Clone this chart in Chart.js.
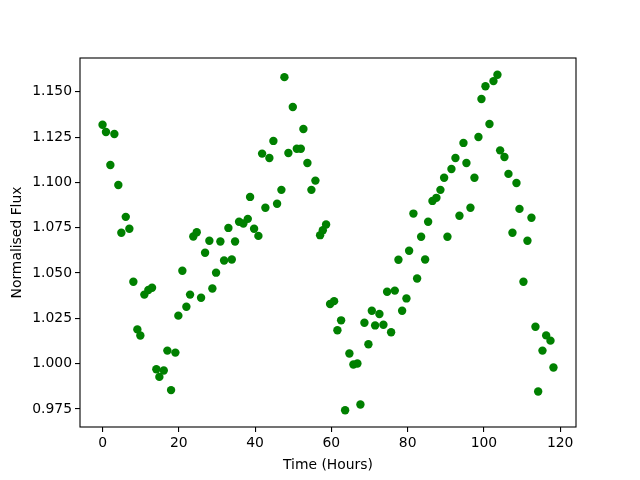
<!DOCTYPE html>
<html>
<head>
<meta charset="utf-8">
<script src="https://cdn.jsdelivr.net/npm/chart.js@4/dist/chart.umd.min.js"></script>
<style>
  html, body { margin: 0; padding: 0; background: #ffffff; }
  #wrap { width: 640px; height: 480px; }
</style>
</head>
<body>
<div id="wrap"><canvas id="fluxChart" width="640" height="480"></canvas></div>
<script>
// --- DATA ---
const timeHours = [
    0.0, 0.9, 2.05, 3.1, 4.14, 4.93, 6.09, 7.03, 8.08, 9.13,
    9.91, 10.96, 12.01, 12.98, 14.11, 14.9, 16.05, 17.0, 17.97, 19.1,
    19.88, 20.93, 21.98, 22.95, 23.8, 24.7, 25.84, 26.89, 28.01, 28.8,
    29.77, 30.9, 31.87, 33.0, 33.89, 34.75, 35.8, 36.93, 38.09, 38.69,
    39.74, 40.87, 41.84, 42.7, 43.75, 44.8, 45.77, 46.9, 47.69, 48.73,
    49.89, 50.94, 51.99, 52.67, 53.72, 54.77, 55.82, 57.05, 57.76, 58.62,
    59.67, 60.72, 61.59, 62.56, 63.61, 64.73, 65.78, 66.83, 67.62, 68.67,
    69.72, 70.61, 71.48, 72.6, 73.65, 74.62, 75.67, 76.64, 77.59, 78.56,
    79.69, 80.39, 81.52, 82.49, 83.54, 84.59, 85.38, 86.51, 87.55, 88.6,
    89.57, 90.44, 91.49, 92.54, 93.59, 94.64, 95.42, 96.47, 97.52, 98.57,
    99.36, 100.41, 101.46, 102.51, 103.55, 104.26, 105.39, 106.44, 107.49, 108.54,
    109.33, 110.37, 111.42, 112.47, 113.52, 114.23, 115.36, 116.33, 117.46, 118.24
];
const normFlux = [
    1.1318, 1.1278, 1.1096, 1.1267, 1.0986, 1.0722, 1.0810, 1.0744, 1.0452, 1.0189,
    1.0155, 1.0381, 1.0406, 1.0419, 0.9969, 0.9927, 0.9962, 1.0072, 0.9854, 1.0061,
    1.0265, 1.0513, 1.0314, 1.0381, 1.0702, 1.0725, 1.0364, 1.0612, 1.0678, 1.0415,
    1.0502, 1.0674, 1.0569, 1.0749, 1.0575, 1.0674, 1.0783, 1.0773, 1.0799, 1.0920,
    1.0744, 1.0705, 1.1159, 1.0860, 1.1135, 1.1229, 1.0882, 1.0959, 1.1581, 1.1162,
    1.1416, 1.1186, 1.1186, 1.1295, 1.1107, 1.0959, 1.1010, 1.0709, 1.0736, 1.0768,
    1.0329, 1.0345, 1.0184, 1.0239, 0.9743, 1.0056, 0.9995, 1.0001, 0.9775, 1.0226,
    1.0107, 1.0292, 1.0211, 1.0274, 1.0215, 1.0397, 1.0173, 1.0403, 1.0573, 1.0292,
    1.0360, 1.0623, 1.0828, 1.0470, 1.0700, 1.0575, 1.0783, 1.0898, 1.0915, 1.0959,
    1.1026, 1.0700, 1.1074, 1.1135, 1.0816, 1.1218, 1.1107, 1.0860, 1.1026, 1.1251,
    1.1460, 1.1531, 1.1322, 1.1559, 1.1594, 1.1177, 1.1140, 1.1047, 1.0722, 1.0997,
    1.0854, 1.0452, 1.0678, 1.0805, 1.0204, 0.9846, 1.0072, 1.0156, 1.0127, 0.9979
];
const xTickValues = [0, 20, 40, 60, 80, 100, 120];
const yTickValues = [0.975, 1.000, 1.025, 1.050, 1.075, 1.100, 1.125, 1.150];

// --- matplotlib-style autoscale: 5% margin each side ---
function paddedRange(arr) {
    const lo = Math.min(...arr), hi = Math.max(...arr);
    const pad = (hi - lo) * 0.05;
    return [lo - pad, hi + pad];
}
const [xMin, xMax] = paddedRange(timeHours);
const [yMin, yMax] = paddedRange(normFlux);

const FONT = { family: 'DejaVu Sans', size: 13.9 };

// draws the full black box round the plot area
const frameBox = {
    id: 'frameBox',
    afterDraw(chart) {
        const { ctx, chartArea: a } = chart;
        ctx.save();
        ctx.strokeStyle = '#000000';
        ctx.lineWidth = 1.1;
        ctx.strokeRect(a.left, a.top, a.right - a.left, a.bottom - a.top);
        ctx.restore();
    }
};

const ctx = document.getElementById('fluxChart').getContext('2d');
new Chart(ctx, {
    type: 'scatter',
    data: {
        datasets: [{
            data: timeHours.map((t, i) => ({ x: t, y: normFlux[i] })),
            backgroundColor: '#008000',
            borderColor: '#008000',
            borderWidth: 0,
            pointRadius: 4.2,
            pointHoverRadius: 4.2
        }]
    },
    options: {
        responsive: false,
        animation: false,
        layout: { padding: { left: 0, right: 64, top: 58, bottom: 0 } },
        plugins: { legend: { display: false }, tooltip: { enabled: false } },
        scales: {
            x: {
                type: 'linear',
                min: xMin,
                max: xMax,
                afterBuildTicks: axis => { axis.ticks = xTickValues.map(v => ({ value: v })); },
                afterFit: axis => { axis.height = 53; },
                grid: { display: true, drawOnChartArea: false, drawTicks: true, tickLength: 5, color: '#000000', lineWidth: 1.1 },
                border: { display: false },
                ticks: { color: '#000000', font: FONT, padding: 3, maxRotation: 0, callback: v => String(v) },
                title: { display: true, text: 'Time (Hours)', color: '#000000', font: FONT, padding: { top: 4, bottom: 6 } }
            },
            y: {
                type: 'linear',
                min: yMin,
                max: yMax,
                afterBuildTicks: axis => { axis.ticks = yTickValues.map(v => ({ value: v })); },
                afterFit: axis => { axis.width = 80; },
                grid: { display: true, drawOnChartArea: false, drawTicks: true, tickLength: 5, color: '#000000', lineWidth: 1.1 },
                border: { display: false },
                ticks: { color: '#000000', font: FONT, padding: 3, callback: v => v.toFixed(3) },
                title: { display: true, text: 'Normalised Flux', color: '#000000', font: FONT, padding: { top: 9, bottom: 0 } }
            }
        }
    },
    plugins: [frameBox]
});
</script>
</body>
</html>
